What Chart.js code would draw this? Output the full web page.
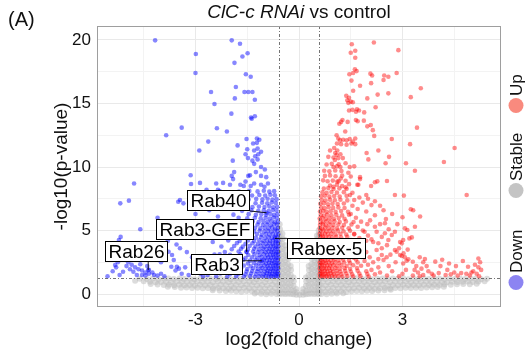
<!DOCTYPE html>
<html>
<head>
<meta charset="utf-8">
<script src="https://cdn.jsdelivr.net/npm/chart.js@4.4.1/dist/chart.umd.min.js"></script>
<style>
  html, body { margin: 0; padding: 0; background: #fff; }
  #wrap { width: 526px; height: 358px; }
</style>
</head>
<body>
<div id="wrap"><canvas id="volcano" width="526" height="358"></canvas></div>
<script>
// --- axis / tick values ---
const xMajor = [-3, 0, 3];
const xMinor = [-4.5, -1.5, 1.5, 4.5];
const yMajor = [0, 5, 10, 15, 20];
const yMinor = [2.5, 7.5, 12.5, 17.5];
const xRange = [-5.855, 5.855];
const yRange = [-1.02, 21.1];
const fcCut = 0.585;   // log2(1.5)
const pCut = 1.3;      // -log10(0.05)

const seriesNames = ['Up', 'Stable', 'Down'];
const chartTitleItalic = 'ClC-c RNAi';
const chartTitleRest = ' vs control';

// labelled genes (points are also in downPts)
const geneNames = ['Rab40', 'Rab3-GEF', 'Rab26', 'Rab3', 'Rabex-5'];
const geneX = [-0.94, -1.52, -4.37, -1.08, -0.70];
const geneY = [6.40, 3.33, 1.89, 2.62, 4.38];

// --- Down (blue) points [log2FC, -log10 p] ---
const downPts = [
  [-0.94,6.40],[-1.52,3.33],[-4.37,1.89],[-1.08,2.62],[-0.70,4.38],
  [-4.17,19.97],[-1.95,19.97],[-1.71,19.7],[-2.99,18.9],[-1.49,18.95],[-1.64,18.7],[-1.87,18.2],[-3.0,17.4],[-1.54,17.3],[-1.4,17.1],
  [-1.83,16.3],[-2.55,15.9],[-1.58,15.9],[-1.47,15.9],[-1.35,15.9],[-1.86,15.4],[-1.28,15.3],[-2.45,14.96],[-1.96,14.2],[-1.39,13.9],
  [-1.28,14.0],[-1.37,13.8],[-3.4,13.1],[-3.85,12.5],[-2.38,13.05],[-2.09,12.8],[-2.63,12.0],[-2.89,11.3],[-1.78,11.7],
  [-1.52,12.2],[-1.22,12.25],[-1.15,12.15],[-1.22,11.9],[-1.33,11.85],[-1.5,11.4],[-1.3,11.3],[-1.2,11.45],[-1.55,11.0],[-1.18,11.0],[-1.1,11.2],
  [-1.92,10.5],[-1.27,10.85],[-1.2,10.6],[-1.35,10.5],[-1.48,10.7],[-1.3,10.25],[-1.88,9.6],[-3.14,9.35],[-1.95,9.3],[-1.47,9.3],
  [-1.42,9.35],[-1.1,10.0],[-0.99,9.8],[-1.1,9.3],[-1.25,9.6],[-0.95,9.2],
  [-4.78,8.7],[-2.4,8.7],[-2.2,8.75],[-1.7,8.6],[-1.6,8.5],[-1.55,8.85],[-1.4,8.5],[-1.3,8.7],[-1.1,8.6],[-1.0,8.45],[-0.9,8.7],
  [-3.13,8.66],[-2.87,8.75],[-2.68,8.2],[-2.35,8.2],[-2.0,8.6],[-1.91,9.05],
  [-5.18,7.14],[-4.93,7.35],[-3.45,7.4],[-3.5,7.27],[-3.35,7.14],[-2.7,7.4],[-2.5,7.0],
  [-4.6,5.1],[-5.17,4.5],[-5.22,4.25],[-3.2,5.7],[-3.0,6.3],[-2.75,5.3],[-2.6,6.6],[-2.9,4.6],[-2.5,4.1],[-3.6,5.0],[-4.1,6.0],
  [-2.45,5.6],[-2.35,6.1],[-3.8,4.2],[-4.2,3.7],[-4.5,3.2],[-3.9,3.0],[-4.0,2.5],
  [-3.78,3.33],[-3.68,3.07],[-3.63,2.68],[-3.54,2.15],[-3.7,2.15],[-3.58,1.85],[-3.48,2.0],[-3.4,1.6],
  [-3.25,3.3],[-3.1,2.9],[-2.95,2.6],[-3.0,1.9],[-2.85,1.6],[-2.7,2.2],[-2.65,1.5],[-2.55,2.6],[-3.2,1.5],[-3.3,2.1],[-2.45,3.1],
  [-2.5,1.8],[-3.45,3.6],[-3.55,3.9],
  [-5.25,2.5],[-5.05,2.75],[-4.95,2.5],[-4.85,2.3],[-5.0,2.2],[-4.75,2.1],[-4.9,1.95],[-5.1,1.75],[-4.8,1.75],[-4.65,1.95],
  [-4.55,1.85],[-4.45,1.7],[-4.35,1.6],[-4.45,1.45],[-4.25,1.7],[-4.2,1.5],[-4.35,1.9],[-4.55,1.5],[-4.7,1.5],[-5.2,1.5],
  [-5.4,1.8],[-5.55,1.4],[-4.1,1.45],[-4.0,1.6],[-3.9,1.4],[-4.6,2.35],[-5.3,2.1],[-4.4,2.2],[-5.33,2.28],
  [-0.61,1.38],[-0.67,1.42],[-0.74,1.36],[-0.81,1.41],[-0.88,1.37],[-0.96,1.43],[-1.05,1.38],[-1.16,1.4],[-1.28,1.36],[-1.42,1.42],[-1.6,1.38],[-1.82,1.41],[-2.08,1.37],[-2.4,1.4],[-2.78,1.38],
  [-0.6,1.58],[-0.65,1.62],[-0.71,1.55],[-0.78,1.6],[-0.85,1.57],[-0.93,1.63],[-1.02,1.56],[-1.13,1.6],[-1.25,1.58],[-1.39,1.62],[-1.55,1.55],[-1.75,1.6],[-2.0,1.57],[-2.28,1.62],
  [-0.62,1.8],[-0.69,1.76],[-0.76,1.83],[-0.84,1.78],[-0.91,1.82],[-1.0,1.77],[-1.1,1.83],[-1.22,1.79],[-1.36,1.81],[-1.52,1.77],[-1.7,1.84],[-1.93,1.78],[-2.2,1.82],
  [-0.6,2.02],[-0.66,1.98],[-0.73,2.04],[-0.8,1.97],[-0.88,2.03],[-0.97,1.99],[-1.07,2.05],[-1.19,1.98],[-1.33,2.03],[-1.5,1.97],[-1.68,2.04],[-1.9,1.99],[-2.15,2.02],[-2.45,1.98],
  [-0.61,2.22],[-0.68,2.26],[-0.75,2.19],[-0.83,2.24],[-0.91,2.2],[-1.0,2.25],[-1.11,2.2],[-1.24,2.24],[-1.4,2.19],[-1.6,2.25],[-1.82,2.21],[-2.1,2.24],
  [-0.6,2.44],[-0.66,2.4],[-0.72,2.47],[-0.79,2.42],[-0.87,2.46],[-0.95,2.41],[-1.05,2.47],[-1.17,2.42],[-1.31,2.45],[-1.48,2.4],[-1.7,2.46],[-1.95,2.42],[-2.3,2.45],
  [-0.62,2.66],[-0.69,2.7],[-0.77,2.63],[-0.85,2.68],[-0.93,2.64],[-1.02,2.69],[-1.13,2.64],[-1.26,2.68],[-1.42,2.63],[-1.62,2.69],[-1.88,2.65],
  [-0.6,2.88],[-0.66,2.84],[-0.73,2.91],[-0.81,2.86],[-0.89,2.9],[-0.98,2.85],[-1.09,2.91],[-1.21,2.86],[-1.36,2.89],[-1.55,2.84],[-1.78,2.9],[-2.05,2.86],
  [-0.61,3.1],[-0.68,3.14],[-0.75,3.07],[-0.83,3.12],[-0.92,3.08],[-1.02,3.13],[-1.14,3.08],[-1.29,3.12],[-1.47,3.07],[-1.7,3.13],[-2.0,3.09],[-2.3,3.12],
  [-0.6,3.32],[-0.66,3.28],[-0.73,3.35],[-0.8,3.3],[-0.88,3.34],[-0.97,3.29],[-1.07,3.35],[-1.19,3.3],[-1.33,3.34],[-1.52,3.3],[-1.75,3.35],[-2.15,3.3],
  [-0.62,3.54],[-0.69,3.58],[-0.77,3.51],[-0.85,3.56],[-0.94,3.52],[-1.04,3.57],[-1.16,3.52],[-1.3,3.56],[-1.48,3.51],[-1.68,3.57],[-1.95,3.53],
  [-0.6,3.76],[-0.67,3.72],[-0.74,3.79],[-0.82,3.74],[-0.91,3.78],[-1.01,3.73],[-1.12,3.79],[-1.26,3.74],[-1.43,3.78],[-1.63,3.73],[-1.88,3.78],[-2.25,3.74],
  [-0.61,3.98],[-0.68,4.02],[-0.76,3.95],[-0.85,4.0],[-0.95,3.96],[-1.06,4.01],[-1.19,3.96],[-1.35,4.0],[-1.55,3.95],[-1.8,4.01],
  [-0.6,4.2],[-0.67,4.16],[-0.75,4.23],[-0.84,4.18],[-0.93,4.22],[-1.03,4.17],[-1.15,4.23],[-1.3,4.18],[-1.48,4.22],[-1.72,4.17],[-2.05,4.22],
  [-0.62,4.45],[-0.7,4.49],[-0.79,4.42],[-0.88,4.47],[-0.98,4.43],[-1.1,4.48],[-1.25,4.43],[-1.42,4.47],[-1.65,4.42],[-1.95,4.48],
  [-0.6,4.7],[-0.67,4.66],[-0.76,4.73],[-0.86,4.68],[-0.96,4.72],[-1.08,4.67],[-1.22,4.72],[-1.4,4.67],[-1.62,4.72],[-1.9,4.68],
  [-0.62,4.95],[-0.7,4.99],[-0.8,4.92],[-0.9,4.97],[-1.01,4.93],[-1.14,4.98],[-1.3,4.93],[-1.5,4.97],[-1.75,4.93],
  [-0.61,5.2],[-0.69,5.16],[-0.78,5.23],[-0.88,5.18],[-0.99,5.22],[-1.12,5.17],[-1.27,5.22],[-1.46,5.17],[-1.7,5.22],[-2.1,5.18],
  [-0.63,5.45],[-0.72,5.49],[-0.82,5.42],[-0.93,5.47],[-1.05,5.43],[-1.2,5.48],[-1.38,5.43],[-1.6,5.47],[-1.88,5.43],
  [-0.61,5.7],[-0.7,5.66],[-0.8,5.73],[-0.91,5.68],[-1.03,5.72],[-1.17,5.67],[-1.34,5.72],[-1.55,5.67],[-1.8,5.72],
  [-0.64,5.98],[-0.74,6.02],[-0.85,5.95],[-0.97,6.0],[-1.11,5.96],[-1.28,6.01],[-1.5,5.96],[-1.75,6.0],
  [-0.62,6.27],[-0.72,6.23],[-0.83,6.3],[-0.95,6.25],[-1.09,6.29],[-1.25,6.24],[-1.46,6.29],[-1.9,6.25],
  [-0.65,6.57],[-0.76,6.61],[-0.88,6.54],[-1.02,6.59],[-1.18,6.55],[-1.38,6.6],[-1.65,6.55],
  [-0.63,6.87],[-0.74,6.83],[-0.86,6.9],[-1.0,6.85],[-1.16,6.89],[-1.35,6.84],[-1.6,6.89],[-2.05,6.85],
  [-0.67,7.17],[-0.79,7.21],[-0.92,7.14],[-1.07,7.19],[-1.26,7.15],[-1.5,7.2],[-1.82,7.15],
  [-0.65,7.47],[-0.77,7.43],[-0.91,7.5],[-1.06,7.45],[-1.24,7.49],[-1.46,7.44],[-1.78,7.49],
  [-0.7,7.78],[-0.83,7.82],[-0.98,7.75],[-1.15,7.8],[-1.36,7.76],[-1.62,7.81],
  [-0.72,8.1],[-0.86,8.06],[-1.02,8.13],[-1.2,8.08],[-1.44,8.12],[-1.74,8.07],[-2.3,8.1]
];

// --- Up (red) points ---
const upPts = [
  [1.53,19.66],[2.17,19.8],[1.5,19.0],[1.63,19.15],[2.88,19.2],[1.63,18.6],[1.62,17.7],[1.67,17.55],[1.46,17.3],[1.57,17.4],
  [2.07,17.35],[2.12,17.2],[2.47,17.2],[2.59,17.1],[2.45,16.85],[2.83,17.4],[1.52,16.8],[2.09,16.6],[1.77,16.4],[3.53,16.2],[1.57,16.0],
  [1.37,15.6],[1.45,15.45],[1.4,15.25],[1.5,15.15],[1.43,15.05],[1.56,15.1],[2.28,15.7],[2.59,15.8],[1.98,15.4],[3.24,15.5],[2.22,14.7],
  [1.45,14.45],[1.55,14.5],[1.65,14.35],[1.74,14.45],[1.68,14.55],[1.89,14.3],
  [1.26,13.7],[1.22,13.55],[1.41,13.55],[1.65,13.7],[1.7,13.6],[1.88,13.65],[1.17,13.4],[2.08,13.3],[1.98,13.2],[3.42,13.1],
  [1.34,12.8],[2.14,12.9],[2.18,12.45],[1.09,12.5],[1.14,12.25],
  [1.19,12.1],[1.28,12.15],[1.38,12.1],[1.47,12.2],[1.56,12.0],[1.63,12.25],[1.1,11.85],[1.22,11.8],[1.38,11.75],[1.52,11.85],[1.63,11.8],
  [2.69,12.2],[3.22,11.8],[4.51,11.5],[1.02,11.5],[1.11,11.3],[2.3,11.3],[1.09,10.95],[1.14,10.7],[1.04,10.55],[1.27,10.7],
  [1.96,11.1],[2.01,10.6],[2.61,10.8],[2.51,10.3],[3.1,10.3],[4.2,10.4],
  [1.0,10.0],[1.1,10.05],[1.2,10.0],[1.47,10.0],[1.6,10.05],[3.36,9.7],[1.77,9.2],[1.77,9.05],[1.43,9.55],[1.5,9.25],
  [1.11,8.85],[1.21,9.1],[2.09,8.5],[2.2,8.8],[2.27,8.87],[2.55,8.9],[1.69,8.6],
  [0.9,8.55],[1.0,8.45],[1.1,8.6],[1.25,8.5],[1.35,8.4],[1.45,8.65],
  [1.72,8.6],[1.48,7.8],[1.6,7.4],[1.75,7.6],[1.85,7.2],[2.0,7.5],[2.1,7.0],[2.2,7.3],[2.35,6.95],[1.55,6.95],[1.95,7.8],
  [2.78,7.8],[3.04,7.75],[4.86,7.8],[3.24,6.67],[3.31,6.6],[3.51,6.1],[3.0,6.04],[2.52,5.9],[2.49,5.57],[2.06,5.8],
  [1.98,5.5],[2.2,5.3],[3.07,5.17],[3.14,5.04],[3.36,5.3],[2.78,4.9],[2.69,4.65],[2.49,4.78],[2.59,4.25],[3.2,4.38],
  [2.93,4.1],[3.02,4.25],[3.27,4.46],[1.9,4.9],[2.0,4.6],[2.1,4.3],[2.15,4.1],[1.95,4.2],
  [2.25,3.47],[2.78,3.47],[2.83,3.33],[2.4,3.07],[2.54,2.9],[2.45,2.68],[2.93,3.07],[3.07,2.9],[3.17,2.73],[3.3,2.54],
  [2.98,3.99],[3.03,3.2],[2.98,3.0],[3.12,2.62],[3.02,2.4],
  [3.5,2.9],[3.6,2.5],[3.7,2.2],[3.55,2.0],[3.75,1.8],[3.4,2.2],[3.45,1.7],[3.6,1.5],[3.85,1.6],[3.3,1.45],[3.35,1.9],[3.65,2.75],[3.9,1.45],[3.5,1.4],
  [3.95,2.55],[4.1,2.2],[4.3,1.9],[4.5,1.7],[4.7,1.65],[4.85,1.6],[5.0,1.7],[5.15,1.6],[4.4,1.55],[4.6,1.45],[4.25,1.5],[4.35,2.4],
  [4.9,2.15],[5.1,2.3],[5.2,2.8],[5.25,2.5],[5.2,2.1],[5.28,1.9],[5.05,1.8],[4.75,2.6],[4.15,2.7],[4.55,2.2],[4.95,1.45],[5.22,1.4],[4.05,1.65],
  [1.5,6.3],[1.65,6.0],[1.8,5.7],[1.7,5.3],[1.85,5.0],[1.6,4.7],[1.75,4.4],[1.65,4.0],[1.85,3.8],[1.7,3.5],[1.95,3.3],[1.8,3.1],
  [2.05,2.9],[1.9,2.6],[2.15,2.5],[2.0,2.3],[2.3,2.1],[2.1,1.9],[2.35,1.7],[2.2,1.55],[2.55,1.45],[2.7,1.8],[2.6,2.2],[2.8,2.5],
  [2.3,2.75],[2.65,3.1],[2.4,3.6],[2.55,3.85],[2.3,4.0],[2.4,4.5],[2.25,4.9],[2.35,5.5],[2.6,5.1],[2.85,5.5],[2.7,6.3],[2.45,6.6],
  [2.2,6.2],[1.95,6.5],[1.7,6.7],[2.9,3.6],[3.15,3.5],[3.0,1.6],[3.1,1.9],[2.9,1.4],
  [0.61,1.38],[0.67,1.42],[0.73,1.36],[0.8,1.41],[0.87,1.37],[0.95,1.43],[1.04,1.38],[1.14,1.41],[1.26,1.37],[1.4,1.42],[1.57,1.38],[1.78,1.41],[2.02,1.37],
  [0.6,1.58],[0.65,1.62],[0.71,1.55],[0.77,1.6],[0.84,1.57],[0.92,1.63],[1.01,1.56],[1.11,1.61],[1.23,1.57],[1.37,1.62],[1.54,1.56],[1.75,1.61],[1.98,1.58],
  [0.62,1.8],[0.68,1.76],[0.75,1.83],[0.82,1.78],[0.9,1.82],[0.99,1.77],[1.09,1.83],[1.2,1.78],[1.34,1.82],[1.5,1.77],[1.7,1.83],[1.95,1.79],
  [0.6,2.02],[0.66,1.98],[0.72,2.05],[0.79,2.0],[0.87,2.04],[0.96,1.99],[1.06,2.05],[1.18,2.0],[1.32,2.04],[1.48,1.99],[1.68,2.05],
  [0.61,2.24],[0.67,2.28],[0.74,2.21],[0.82,2.26],[0.9,2.22],[0.99,2.27],[1.1,2.22],[1.23,2.26],[1.38,2.21],[1.57,2.27],[1.8,2.23],
  [0.6,2.46],[0.65,2.42],[0.71,2.49],[0.78,2.44],[0.86,2.48],[0.95,2.43],[1.05,2.49],[1.17,2.44],[1.31,2.48],[1.48,2.43],[1.7,2.49],
  [0.62,2.68],[0.68,2.72],[0.75,2.65],[0.83,2.7],[0.92,2.66],[1.02,2.71],[1.14,2.66],[1.28,2.7],[1.45,2.65],[1.65,2.71],
  [0.6,2.9],[0.66,2.86],[0.73,2.93],[0.81,2.88],[0.89,2.92],[0.99,2.87],[1.1,2.93],[1.23,2.88],[1.39,2.92],[1.58,2.87],[1.82,2.92],
  [0.61,3.12],[0.67,3.16],[0.74,3.09],[0.82,3.14],[0.91,3.1],[1.01,3.15],[1.13,3.1],[1.27,3.14],[1.44,3.09],[1.65,3.15],
  [0.6,3.34],[0.66,3.3],[0.72,3.37],[0.8,3.32],[0.88,3.36],[0.97,3.31],[1.08,3.37],[1.21,3.32],[1.37,3.36],[1.56,3.31],[1.8,3.36],
  [0.62,3.56],[0.68,3.6],[0.76,3.53],[0.84,3.58],[0.93,3.54],[1.04,3.59],[1.16,3.54],[1.31,3.58],[1.5,3.53],
  [0.6,3.78],[0.67,3.74],[0.74,3.81],[0.82,3.76],[0.91,3.8],[1.01,3.75],[1.13,3.81],[1.28,3.76],[1.46,3.8],[1.68,3.75],
  [0.61,4.0],[0.68,4.04],[0.76,3.97],[0.85,4.02],[0.95,3.98],[1.06,4.03],[1.2,3.98],[1.37,4.02],[1.58,3.97],
  [0.6,4.24],[0.66,4.2],[0.74,4.27],[0.83,4.22],[0.93,4.26],[1.04,4.21],[1.17,4.27],[1.33,4.22],[1.52,4.26],
  [0.62,4.48],[0.69,4.52],[0.77,4.45],[0.86,4.5],[0.96,4.46],[1.08,4.51],[1.22,4.46],[1.4,4.5],
  [0.6,4.72],[0.67,4.68],[0.75,4.75],[0.84,4.7],[0.94,4.74],[1.06,4.69],[1.2,4.74],[1.37,4.69],[1.6,4.74],
  [0.62,4.96],[0.7,5.0],[0.79,4.93],[0.89,4.98],[1.0,4.94],[1.13,4.99],[1.29,4.94],[1.48,4.98],
  [0.6,5.2],[0.67,5.16],[0.76,5.23],[0.86,5.18],[0.97,5.22],[1.1,5.17],[1.25,5.22],[1.44,5.17],
  [0.61,5.45],[0.69,5.49],[0.78,5.42],[0.88,5.47],[1.0,5.43],[1.14,5.48],[1.3,5.43],[1.52,5.47],
  [0.62,5.7],[0.7,5.66],[0.8,5.73],[0.91,5.68],[1.03,5.72],[1.18,5.67],[1.36,5.72],[1.58,5.67],
  [0.6,5.95],[0.68,5.99],[0.78,5.92],[0.89,5.97],[1.01,5.93],[1.15,5.98],[1.32,5.93],
  [0.63,6.22],[0.72,6.18],[0.82,6.25],[0.94,6.2],[1.08,6.24],[1.25,6.19],[1.45,6.24],
  [0.61,6.5],[0.7,6.54],[0.8,6.47],[0.92,6.52],[1.06,6.48],[1.22,6.53],[1.42,6.48],
  [0.64,6.8],[0.74,6.76],[0.86,6.83],[0.99,6.78],[1.14,6.82],[1.32,6.77],
  [0.62,7.1],[0.72,7.14],[0.84,7.07],[0.97,7.12],[1.12,7.08],[1.3,7.13],
  [0.66,7.4],[0.77,7.36],[0.9,7.43],[1.04,7.38],[1.2,7.42],[1.4,7.37],
  [0.64,7.7],[0.75,7.74],[0.88,7.67],[1.02,7.72],[1.18,7.68],[1.38,7.73],
  [0.68,8.0],[0.8,7.96],[0.94,8.03],[1.1,7.98],[1.3,8.02],[1.55,7.97],
  [0.72,8.3],[0.85,8.34],[1.0,8.27],[1.17,8.32],[1.38,8.28],
  [0.7,8.95],[0.83,8.88],[0.98,8.93],[1.15,8.87],[1.35,8.92],
  [0.75,9.3],[0.9,9.34],[1.06,9.27],[1.25,9.32],
  [0.73,9.7],[0.88,9.66],[1.05,9.73],[1.23,9.68],
  [0.8,10.2],[0.95,10.25],[1.15,10.22],[1.35,10.3],
  [0.85,10.8],[1.0,10.75],[1.2,11.0],[0.9,11.3],[1.05,11.1]
];

// --- Stable (grey) points ---
const stablePts = [
  [-0.62,1.2],[-0.76,1.23],[-0.93,1.18],[-1.06,1.22],[-1.23,1.17],[-1.37,1.21],[-1.51,1.24],[-1.68,1.19],[-1.82,1.22],[-1.98,1.17],
  [-2.11,1.21],[-2.28,1.23],[-2.41,1.18],[-2.58,1.22],[-2.73,1.2],[-2.86,1.24],[-3.03,1.17],[-3.16,1.21],[-3.33,1.19],[-3.46,1.23],
  [-3.63,1.18],[-3.78,1.22],[-3.91,1.2],[-4.08,1.17],[-4.24,1.22],[-4.41,1.19],[-4.62,1.21],
  [-0.69,0.95],[-0.84,0.98],[-0.99,0.93],[-1.15,0.97],[-1.3,0.92],[-1.44,0.96],[-1.6,0.99],[-1.75,0.94],[-1.9,0.97],[-2.04,0.92],
  [-2.2,0.96],[-2.35,0.98],[-2.5,0.93],[-2.65,0.97],[-2.8,0.95],[-2.95,0.99],[-3.1,0.92],[-3.25,0.96],[-3.4,0.94],[-3.55,0.98],
  [-3.7,0.93],[-3.85,0.97],[-4.0,0.95],[-4.16,0.92],[-4.32,0.97],[-4.5,1.0],[-4.75,1.05],
  [-0.62,0.7],[-0.77,0.73],[-0.92,0.68],[-1.07,0.72],[-1.22,0.67],[-1.37,0.71],[-1.52,0.74],[-1.67,0.69],[-1.82,0.72],[-1.97,0.67],
  [-2.12,0.71],[-2.27,0.73],[-2.42,0.68],[-2.57,0.72],[-2.72,0.7],[-2.87,0.74],[-3.02,0.67],[-3.17,0.71],[-3.32,0.69],[-3.47,0.73],
  [-3.62,0.7],[-3.77,0.74],[-3.92,0.72],[-4.1,0.76],[-4.3,0.8],
  [-0.69,0.45],[-0.84,0.48],[-0.99,0.43],[-1.14,0.47],[-1.29,0.42],[-1.44,0.46],[-1.59,0.49],[-1.74,0.44],[-1.89,0.47],[-2.04,0.42],
  [-2.19,0.46],[-2.34,0.48],[-2.49,0.43],[-2.64,0.47],[-2.79,0.45],[-2.94,0.5],[-3.1,0.48],[-3.26,0.52],[-3.42,0.5],[-3.6,0.55],[-3.8,0.58],
  [-0.62,0.2],[-0.77,0.23],[-0.92,0.18],[-1.07,0.22],[-1.22,0.17],[-1.37,0.21],[-1.52,0.24],[-1.67,0.19],[-1.82,0.22],[-1.97,0.25],
  [-2.12,0.24],[-2.3,0.28],[-2.5,0.3],
  [-0.65,0.0],[-0.8,0.02],[-0.95,-0.01],[-1.1,0.03],[-1.28,0.05],
  [0.62,1.21],[0.77,1.18],[0.92,1.23],[1.07,1.19],[1.22,1.22],[1.37,1.17],[1.52,1.21],[1.67,1.24],[1.82,1.19],[1.97,1.22],
  [2.12,1.17],[2.27,1.21],[2.42,1.23],[2.57,1.18],[2.72,1.22],[2.87,1.2],[3.02,1.24],[3.17,1.17],[3.32,1.21],[3.47,1.19],
  [3.62,1.23],[3.77,1.18],[3.92,1.22],[4.07,1.2],[4.22,1.17],[4.37,1.22],[4.52,1.19],[4.67,1.21],[4.82,1.18],[4.97,1.22],
  [5.12,1.2],[5.28,1.17],[5.45,1.21],
  [0.69,0.96],[0.84,0.93],[0.99,0.98],[1.14,0.94],[1.29,0.97],[1.44,0.92],[1.59,0.96],[1.74,0.99],[1.89,0.94],[2.04,0.97],
  [2.19,0.92],[2.34,0.96],[2.49,0.98],[2.64,0.93],[2.79,0.97],[2.94,0.95],[3.09,0.99],[3.24,0.92],[3.39,0.96],[3.54,0.94],
  [3.69,0.98],[3.84,0.93],[3.99,0.97],[4.14,0.95],[4.29,0.92],[4.44,0.97],[4.59,0.94],[4.74,0.96],[4.89,0.99],[5.04,0.95],
  [5.2,0.98],[5.38,1.0],
  [0.62,0.71],[0.77,0.68],[0.92,0.73],[1.07,0.69],[1.22,0.72],[1.37,0.67],[1.52,0.71],[1.67,0.74],[1.82,0.69],[1.97,0.72],
  [2.12,0.67],[2.27,0.71],[2.42,0.73],[2.57,0.68],[2.72,0.72],[2.87,0.7],[3.02,0.74],[3.17,0.69],[3.32,0.72],[3.47,0.7],
  [3.62,0.73],[3.77,0.71],[3.92,0.74],[4.07,0.72],[4.22,0.75],[4.4,0.74],[4.58,0.78],[4.76,0.8],[4.95,0.78],[5.15,0.82],
  [0.69,0.46],[0.84,0.43],[0.99,0.48],[1.14,0.44],[1.29,0.47],[1.44,0.42],[1.59,0.46],[1.74,0.49],[1.89,0.44],[2.04,0.47],
  [2.19,0.42],[2.34,0.46],[2.49,0.48],[2.64,0.43],[2.79,0.47],[2.94,0.45],[3.09,0.49],[3.24,0.47],[3.39,0.5],[3.54,0.48],
  [3.7,0.52],[3.86,0.54],[4.02,0.56],[4.2,0.58],
  [0.62,0.21],[0.77,0.18],[0.92,0.23],[1.07,0.19],[1.22,0.22],[1.37,0.17],[1.52,0.21],[1.67,0.24],[1.82,0.21],[1.97,0.25],
  [2.12,0.23],[2.3,0.27],[2.48,0.3],[2.66,0.33],
  [0.65,0.01],[0.8,-0.01],[0.95,0.02],[1.1,0.04],[1.28,0.06],
  [-0.56,0.0],[-0.55,0.3],[-0.56,0.7],[-0.55,1.1],[-0.56,1.5],[-0.55,1.9],[-0.56,2.3],[-0.55,2.7],[-0.56,3.1],[-0.55,3.5],
  [-0.56,3.9],[-0.55,4.3],[-0.56,4.7],[-0.55,5.1],[-0.56,5.5],
  [-0.48,0.02],[-0.47,0.35],[-0.48,0.75],[-0.47,1.15],[-0.48,1.55],[-0.47,1.95],[-0.48,2.35],[-0.47,2.75],[-0.48,3.15],[-0.47,3.55],
  [-0.48,3.95],[-0.47,4.35],[-0.48,4.75],
  [-0.4,0.0],[-0.39,0.3],[-0.4,0.7],[-0.39,1.1],[-0.4,1.5],[-0.39,1.9],[-0.4,2.3],[-0.39,2.7],[-0.4,3.1],[-0.39,3.5],[-0.4,3.85],
  [-0.32,0.02],[-0.31,0.35],[-0.32,0.75],[-0.31,1.15],[-0.32,1.55],[-0.31,1.95],[-0.32,2.35],[-0.31,2.75],[-0.32,3.05],
  [-0.24,0.0],[-0.23,0.3],[-0.24,0.7],[-0.23,1.1],[-0.24,1.5],[-0.23,1.9],[-0.24,2.2],
  [-0.16,-0.02],[-0.15,0.25],[-0.16,0.65],[-0.15,1.0],[-0.16,1.3],
  [-0.08,-0.05],[-0.07,0.15],[-0.08,0.4],
  [0.02,-0.05],
  [0.12,-0.05],[0.11,0.15],[0.12,0.4],
  [0.2,-0.02],[0.21,0.25],[0.2,0.65],[0.21,1.0],[0.2,1.3],
  [0.28,0.0],[0.29,0.3],[0.28,0.7],[0.29,1.1],[0.28,1.5],[0.29,1.9],[0.28,2.2],
  [0.36,0.02],[0.37,0.35],[0.36,0.75],[0.37,1.15],[0.36,1.55],[0.37,1.95],[0.36,2.35],[0.37,2.75],[0.36,3.05],
  [0.44,0.0],[0.45,0.3],[0.44,0.7],[0.45,1.1],[0.44,1.5],[0.45,1.9],[0.44,2.3],[0.45,2.7],[0.44,3.1],[0.45,3.5],[0.44,3.85],
  [0.52,0.02],[0.53,0.35],[0.52,0.75],[0.53,1.15],[0.52,1.55],[0.53,1.95],[0.52,2.35],[0.53,2.75],[0.52,3.15],[0.53,3.55],
  [0.52,3.95],[0.53,4.35],[0.52,4.6],
  [0.575,0.0],[0.57,0.3],[0.575,0.7],[0.57,1.1],[0.575,1.5],[0.57,1.9],[0.575,2.3],[0.57,2.7],[0.575,3.1],[0.57,3.5],
  [0.575,3.9],[0.57,4.3],[0.575,4.7],[0.57,5.0]
];

// --- styling ---
const FONT = '"Liberation Sans", Arial, Helvetica, sans-serif';
const TEXT = '#111111';
const downColor = 'rgba(0,0,255,0.47)';
const upColor = 'rgba(255,0,0,0.45)';
const stableColor = 'rgba(185,185,185,0.5)';
const legendColors = { Up: '#f98a7e', Stable: '#c4c4c4', Down: '#8c84f2' };
// label box centres relative to their point, in pixels (ggrepel-like placement)
const labelOffset = [[-48, -12], [-42, -22], [-12, -19], [-45, 4], [52, 10]];

const toXY = pts => pts.map(p => ({ x: p[0], y: p[1] }));

const decor = {
  id: 'decor',
  afterDatasetsDraw(chart) {
    const { ctx, chartArea: a, scales: { x, y } } = chart;
    ctx.save();
    // threshold lines (dot-dash)
    ctx.strokeStyle = '#505050';
    ctx.lineWidth = 0.8;
    ctx.setLineDash([3, 2, 1, 2]);
    [-fcCut, fcCut].forEach(v => {
      const px = Math.round(x.getPixelForValue(v)) + 0.5;
      ctx.beginPath(); ctx.moveTo(px, a.top); ctx.lineTo(px, a.bottom); ctx.stroke();
    });
    const py = Math.round(y.getPixelForValue(pCut)) + 0.5;
    ctx.beginPath(); ctx.moveTo(a.left, py); ctx.lineTo(a.right, py); ctx.stroke();
    ctx.setLineDash([]);

    // panel frame
    ctx.strokeStyle = '#9e9e9e';
    ctx.lineWidth = 1;
    ctx.strokeRect(Math.round(a.left) + 0.5, Math.round(a.top) + 0.5,
                   Math.round(a.right - a.left) - 1, Math.round(a.bottom - a.top) - 1);

    // gene labels with leader segments
    ctx.font = '19px ' + FONT;
    geneNames.forEach((name, i) => {
      const px = x.getPixelForValue(geneX[i]);
      const pyy = y.getPixelForValue(geneY[i]);
      const w = Math.round(ctx.measureText(name).width + 7);
      const h = 21;
      const cx = px + labelOffset[i][0], cy = pyy + labelOffset[i][1];
      const bx = Math.round(cx - w / 2), by = Math.round(cy - h / 2);
      const nx = Math.max(bx, Math.min(px, bx + w));
      const ny = Math.max(by, Math.min(pyy, by + h));
      ctx.strokeStyle = '#000';
      ctx.lineWidth = 0.9;
      ctx.beginPath(); ctx.moveTo(nx, ny); ctx.lineTo(px, pyy); ctx.stroke();
      ctx.fillStyle = '#fff';
      ctx.fillRect(bx, by, w, h);
      ctx.lineWidth = 1;
      ctx.strokeRect(bx + 0.5, by + 0.5, w - 1, h - 1);
      ctx.fillStyle = '#000';
      ctx.textAlign = 'center';
      ctx.textBaseline = 'middle';
      ctx.fillText(name, bx + w / 2, by + h / 2 + 1);
    });
    ctx.restore();
  },
  afterDraw(chart) {
    const { ctx, chartArea: a } = chart;
    ctx.save();
    ctx.fillStyle = TEXT;
    ctx.textBaseline = 'middle';

    // panel tag
    ctx.font = '20px ' + FONT;
    ctx.textAlign = 'left';
    ctx.fillText('(A)', 8, 20);

    // title: italic gene + plain rest
    ctx.font = 'italic 19px ' + FONT;
    const w1 = ctx.measureText(chartTitleItalic).width;
    ctx.font = '19px ' + FONT;
    const w2 = ctx.measureText(chartTitleRest).width;
    const cx = (a.left + a.right) / 2;
    const sx = cx - (w1 + w2) / 2;
    ctx.font = 'italic 19px ' + FONT;
    ctx.fillText(chartTitleItalic, sx, 13);
    ctx.font = '19px ' + FONT;
    ctx.fillText(chartTitleRest, sx + w1, 13);

    // axis titles
    ctx.textAlign = 'center';
    ctx.fillText('log2(fold change)', cx, 340);
    ctx.save();
    ctx.translate(62, (a.top + a.bottom) / 2);
    ctx.rotate(-Math.PI / 2);
    ctx.fillText('-log10(p-value)', 0, 0);
    ctx.restore();

    // legend (rotated, keys below labels)
    const keyY = { Up: 105.5, Stable: 190.5, Down: 282.5 };
    seriesNames.forEach(n => {
      ctx.fillStyle = legendColors[n];
      ctx.beginPath(); ctx.arc(516, keyY[n], 7.5, 0, Math.PI * 2); ctx.fill();
      ctx.fillStyle = TEXT;
      ctx.font = '17px ' + FONT;
      ctx.save();
      ctx.translate(517, keyY[n] - 9.5);
      ctx.rotate(-Math.PI / 2);
      ctx.textAlign = 'left';
      ctx.textBaseline = 'middle';
      ctx.fillText(n, 0, 0);
      ctx.restore();
    });
    ctx.restore();
  }
};

new Chart(document.getElementById('volcano'), {
  type: 'scatter',
  data: {
    datasets: [
      { label: 'Down', data: toXY(downPts), backgroundColor: downColor, borderWidth: 0, pointRadius: 2.3 },
      { label: 'Up', data: toXY(upPts), backgroundColor: upColor, borderWidth: 0, pointRadius: 2.3 },
      { label: 'Stable', data: toXY(stablePts), backgroundColor: stableColor, borderWidth: 0, pointRadius: 3 }
    ]
  },
  options: {
    responsive: false,
    animation: false,
    devicePixelRatio: 1,
    events: [],
    layout: { padding: { top: 26, right: 25, left: 0, bottom: 0 } },
    plugins: { legend: { display: false }, tooltip: { enabled: false }, title: { display: false } },
    scales: {
      x: {
        type: 'linear',
        min: xRange[0], max: xRange[1],
        afterBuildTicks: s => { s.ticks = xMinor.concat(xMajor).sort((p, q) => p - q).map(v => ({ value: v })); },
        afterFit: s => { s.height = 51; },
        grid: {
          drawTicks: false,
          color: c => (c.tick && xMajor.includes(c.tick.value)) ? '#e9e9e9' : '#f3f3f3'
        },
        border: { display: false },
        ticks: {
          autoSkip: false, maxRotation: 0, padding: 3, color: TEXT,
          font: { family: FONT, size: 17 },
          callback: v => xMajor.includes(v) ? String(v) : ''
        }
      },
      y: {
        type: 'linear',
        min: yRange[0], max: yRange[1],
        afterBuildTicks: s => { s.ticks = yMinor.concat(yMajor).sort((p, q) => p - q).map(v => ({ value: v })); },
        afterFit: s => { s.width = 97; },
        grid: {
          drawTicks: false,
          color: c => (c.tick && yMajor.includes(c.tick.value)) ? '#e9e9e9' : '#f3f3f3'
        },
        border: { display: false },
        ticks: {
          autoSkip: false, padding: 6, color: TEXT,
          font: { family: FONT, size: 17 },
          callback: v => yMajor.includes(v) ? String(v) : ''
        }
      }
    }
  },
  plugins: [decor]
});
</script>
</body>
</html>
